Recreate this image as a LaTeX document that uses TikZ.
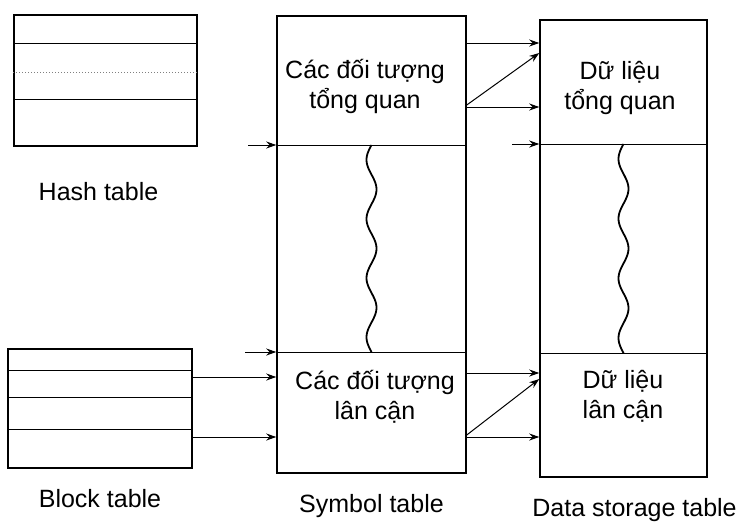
\documentclass[tikz,border=0pt]{standalone}
\usepackage{fontspec}
\setmainfont{Liberation Sans}
\usepackage{tikz}
\usetikzlibrary{arrows.meta, positioning}
\tikzstyle{tablebox} = [rectangle, draw=black, line width=1.5pt, inner sep=0pt]
\tikzstyle{rowline} = [line width=1pt]
\tikzstyle{arrow} = [line width=1pt,->,>={Stealth[length=10pt,width=7pt]}]
\tikzstyle{wave} = [line width=1.8pt, smooth]
\tikzstyle{tabname} = [font=\fontsize{25}{30}\selectfont, inner sep=0pt]
\tikzstyle{celltext} = [font=\fontsize{25}{30}\selectfont, inner sep=0pt, align=center, anchor=north]

\begin{document}
\begin{tikzpicture}[x=1pt, y=-1pt]
    \useasboundingbox (0,0) rectangle (741,523);

    % Hash table
    \node (hash) [tablebox, minimum width=183pt, minimum height=131pt] at (105.5,80.5) {};
    \foreach \r in {43,99}
        \draw [rowline] (hash.west |- 0,\r) -- (hash.east |- 0,\r);
    \draw [rowline, dotted, gray] (hash.west |- 0,72) -- (hash.east |- 0,72);
    \node (hashname) [tabname, below=35pt of hash, xshift=-7pt] {Hash table};

    % Block table
    \node (block) [tablebox, minimum width=184pt, minimum height=119pt] at (100,408.5) {};
    \foreach \r in {370,397,429}
        \draw [rowline] (block.west |- 0,\r) -- (block.east |- 0,\r);
    \node (blockname) [tabname, below=20pt of block] {Block table};

    % Symbol table
    \node (sym) [tablebox, minimum width=189pt, minimum height=457pt] at (371.5,244.5) {};
    \coordinate (symA) at (sym.north |- 0,145);
    \coordinate (symB) at (sym.north |- 0,352);
    \draw [rowline] (sym.west |- symA) -- (sym.east |- symA);
    \draw [rowline] (sym.west |- symB) -- (sym.east |- symB);
    \draw [wave, shift={(symA)}] plot[domain=0:207, samples=120] ({-5*sin(6.087*\x)}, \x);
    \node (symupper) [celltext] at (365,59) {Các đối tượng\\tổng quan};
    \node (symlower) [celltext] at (375,370) {Các đối tượng\\lân cận};
    \node (symname) [tabname, below=20pt of sym] {Symbol table};

    % Data storage table
    \node (data) [tablebox, minimum width=167pt, minimum height=457pt] at (623.5,248.5) {};
    \coordinate (dataA) at (data.north |- 0,144);
    \coordinate (dataB) at (data.north |- 0,353);
    \draw [rowline] (data.west |- dataA) -- (data.east |- dataA);
    \draw [rowline] (data.west |- dataB) -- (data.east |- dataB);
    \draw [wave, shift={(dataA)}] plot[domain=0:209, samples=120] ({-5*sin(6.029*\x)}, \x);
    \node (dataupper) [celltext] at (620,61) {Dữ liệu\\tổng quan};
    \node (datalower) [celltext] at (623,370) {Dữ liệu\\lân cận};
    \node (dataname) [tabname, below=20pt of data, xshift=11pt] {Data storage table};

    % Arrows
    \coordinate (inA) at (248,145);
    \coordinate (inB) at (245,352);
    \coordinate (inC) at (512,144);
    \draw [arrow] (inA) -- (sym.west |- inA);
    \draw [arrow] (inB) -- (sym.west |- inB);
    \draw [arrow] (block.east |- 0,377) -- (sym.west |- 0,377);
    \draw [arrow] (block.east |- 0,437) -- (sym.west |- 0,437);
    \draw [arrow] (inC) -- (data.west |- inC);

    \draw [arrow] (sym.east |- 0,43) -- (data.west |- 0,43);
    \draw [arrow] (sym.east |- 0,105) -- (data.west |- 0,53);
    \draw [arrow] (sym.east |- 0,107) -- (data.west |- 0,107);

    \draw [arrow] (sym.east |- 0,373) -- (data.west |- 0,373);
    \draw [arrow] (sym.east |- 0,435) -- (data.west |- 0,379);
    \draw [arrow] (sym.east |- 0,437) -- (data.west |- 0,437);
\end{tikzpicture}
\end{document}
